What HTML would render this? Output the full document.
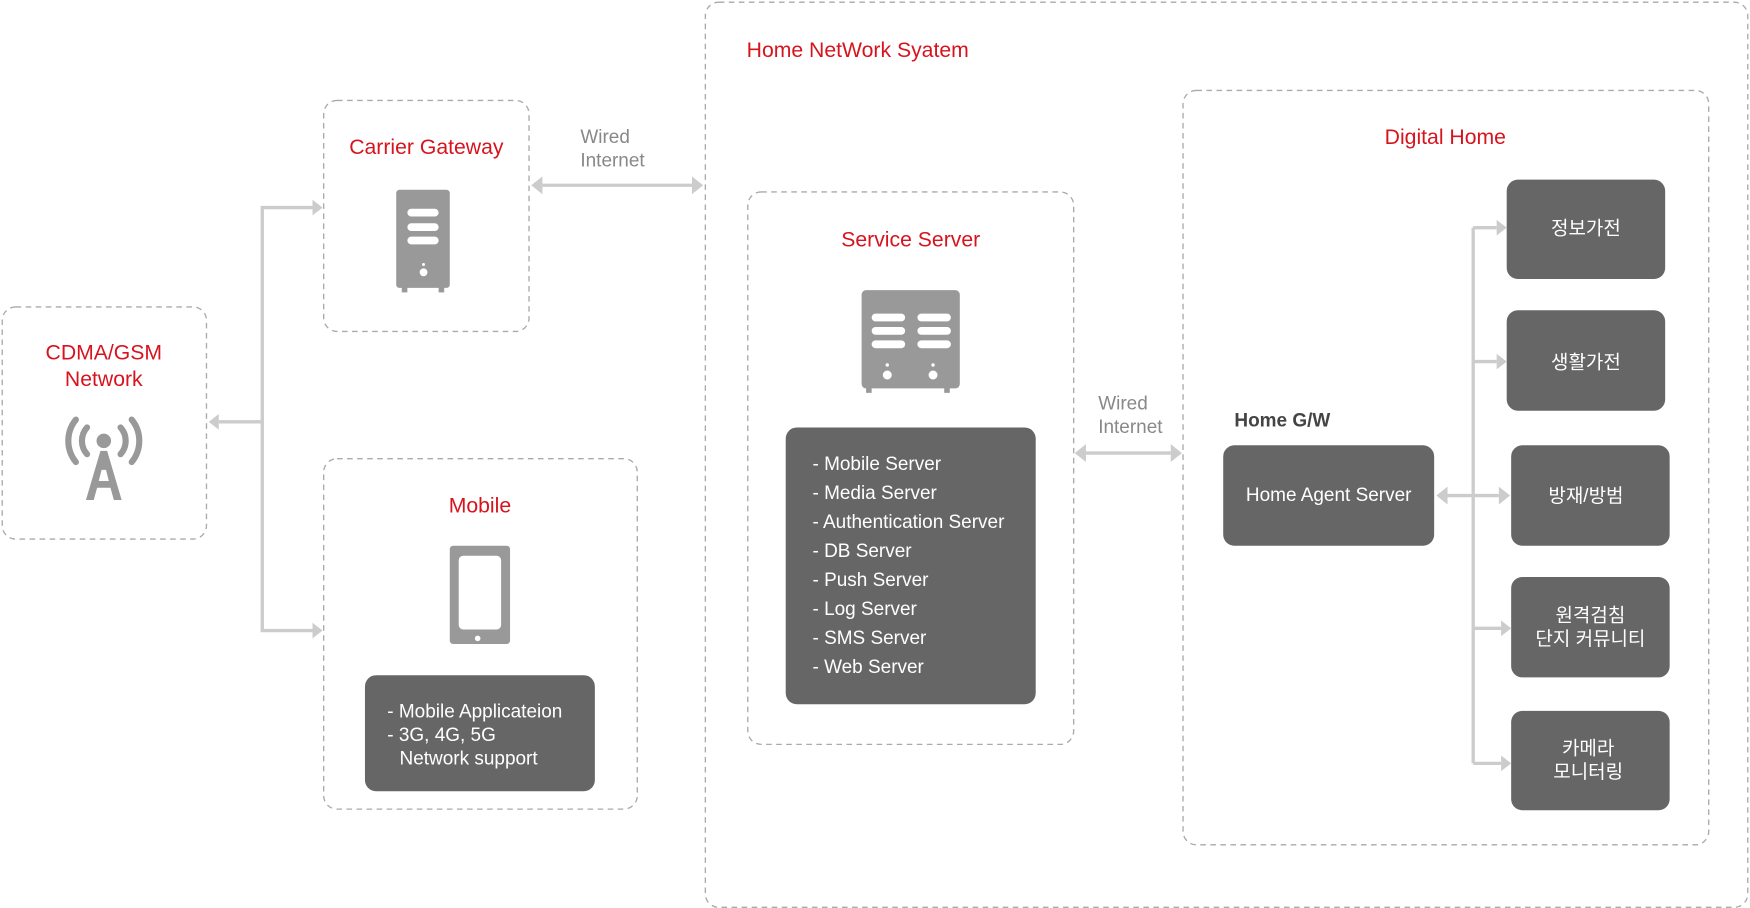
<!DOCTYPE html>
<html><head><meta charset="utf-8"><style>
html,body{margin:0;padding:0;background:#fff;width:1750px;height:908px;overflow:hidden}
svg{display:block}
text{font-family:"Liberation Sans","Noto Sans CJK KR",sans-serif}
.r{fill:#d7141e;font-size:19px}
.g{fill:#888;font-size:17px}
.w{fill:#fff;font-size:17px}
.d{fill:none;stroke:#aaa;stroke-width:1.2;stroke-dasharray:5,4}
.l{stroke:#ccc;stroke-width:3;fill:none}
.a{fill:#ccc}
.b{fill:#666}
</style></head><body>
<svg width="1750" height="908" viewBox="0 0 1568 813.6" preserveAspectRatio="none">
<!-- boxes -->
<rect class="d" x="632" y="2" width="934" height="811" rx="12"/>
<rect class="d" x="290" y="90" width="184" height="207" rx="12"/>
<rect class="d" x="2" y="275" width="183" height="208" rx="12"/>
<rect class="d" x="290" y="411" width="281" height="314" rx="12"/>
<rect class="d" x="670" y="172" width="292" height="495" rx="12"/>
<rect class="d" x="1060" y="81" width="471" height="676" rx="12"/>

<text class="r" x="669" y="51">Home NetWork Syatem</text>
<text class="r" x="382" y="138" text-anchor="middle">Carrier Gateway</text>
<text class="r" x="93" y="322" text-anchor="middle">CDMA/GSM</text>
<text class="r" x="93" y="346" text-anchor="middle">Network</text>
<text class="r" x="430" y="459" text-anchor="middle">Mobile</text>
<text class="r" x="816" y="221" text-anchor="middle">Service Server</text>
<text class="r" x="1295" y="129" text-anchor="middle">Digital Home</text>

<text class="g" x="520" y="128">Wired</text>
<text class="g" x="520" y="149">Internet</text>
<text class="g" x="984" y="367">Wired</text>
<text class="g" x="984" y="388">Internet</text>

<!-- carrier server icon -->
<rect x="355" y="170" width="48" height="88" rx="3" fill="#999"/>
<rect x="360" y="257" width="5" height="5" fill="#999"/><rect x="393" y="257" width="5" height="5" fill="#999"/>
<rect x="365" y="187" width="28" height="7" rx="3.5" fill="#fff"/>
<rect x="365" y="200" width="28" height="7" rx="3.5" fill="#fff"/>
<rect x="365" y="212" width="28" height="7" rx="3.5" fill="#fff"/>
<circle cx="379.5" cy="244" r="3.5" fill="#fff"/><circle cx="379.5" cy="237" r="1.3" fill="#fff"/>

<!-- service server icon -->
<rect x="772" y="260" width="88" height="88" rx="4" fill="#999"/>
<rect x="776" y="347" width="5" height="5" fill="#999"/><rect x="846" y="347" width="5" height="5" fill="#999"/>
<g fill="#fff">
<rect x="781" y="281" width="30" height="7" rx="3.5"/><rect x="781" y="293" width="30" height="7" rx="3.5"/><rect x="781" y="305" width="30" height="7" rx="3.5"/>
<rect x="822" y="281" width="30" height="7" rx="3.5"/><rect x="822" y="293" width="30" height="7" rx="3.5"/><rect x="822" y="305" width="30" height="7" rx="3.5"/>
<circle cx="795" cy="336" r="4"/><circle cx="795" cy="327" r="1.5"/>
<circle cx="836" cy="336" r="4"/><circle cx="836" cy="327" r="1.5"/>
</g>

<!-- antenna -->
<g fill="#999">
<circle cx="93" cy="395" r="6.5"/>
<path d="M78 383 A18 18 0 0 0 78 407" stroke="#999" stroke-width="5.5" fill="none" stroke-linecap="round"/>
<path d="M108 383 A18 18 0 0 1 108 407" stroke="#999" stroke-width="5.5" fill="none" stroke-linecap="round"/>
<path d="M68 376 A30 30 0 0 0 68 414" stroke="#999" stroke-width="5.5" fill="none" stroke-linecap="round"/>
<path d="M118 376 A30 30 0 0 1 118 414" stroke="#999" stroke-width="5.5" fill="none" stroke-linecap="round"/>
<path d="M90 404 L96 404 L109 448 L102 448 L99 437 L87 437 L84 448 L77 448 Z M88.5 431 L97.5 431 L95 421 L91 421 Z"/>
</g>

<!-- phone -->
<rect x="403" y="489" width="54" height="88" rx="3" fill="#999"/>
<rect x="411" y="498" width="38" height="66" rx="4" fill="#fff"/>
<circle cx="428" cy="572" r="2.5" fill="#fff"/>

<!-- dark boxes -->
<rect class="b" x="327" y="605" width="206" height="104" rx="10"/>
<text class="w" x="347" y="643">- Mobile Applicateion</text>
<text class="w" x="347" y="664">- 3G, 4G, 5G</text>
<text class="w" x="358" y="685">Network support</text>

<rect class="b" x="704" y="383" width="224" height="248" rx="10"/>
<g class="w">
<text class="w" x="728" y="421">- Mobile Server</text>
<text class="w" x="728" y="447">- Media Server</text>
<text class="w" x="728" y="473">- Authentication Server</text>
<text class="w" x="728" y="499">- DB Server</text>
<text class="w" x="728" y="525">- Push Server</text>
<text class="w" x="728" y="551">- Log Server</text>
<text class="w" x="728" y="577">- SMS Server</text>
<text class="w" x="728" y="603">- Web Server</text>
</g>

<text x="1106" y="382" style="font-size:17px;font-weight:bold;fill:#444">Home G/W</text>
<rect class="b" x="1096" y="399" width="189" height="90" rx="10"/>
<text class="w" x="1190.5" y="449" text-anchor="middle">Home Agent Server</text>

<rect class="b" x="1350" y="161" width="142" height="89" rx="10"/>
<text class="w" x="1421" y="210" text-anchor="middle">정보가전</text>
<rect class="b" x="1350" y="278" width="142" height="90" rx="10"/>
<text class="w" x="1421" y="330" text-anchor="middle">생활가전</text>
<rect class="b" x="1354" y="399" width="142" height="90" rx="10"/>
<text class="w" x="1421" y="450" text-anchor="middle">방재/방범</text>
<rect class="b" x="1354" y="517" width="142" height="90" rx="10"/>
<text class="w" x="1425" y="557" text-anchor="middle">원격검침</text>
<text class="w" x="1425" y="578" text-anchor="middle">단지 커뮤니티</text>
<rect class="b" x="1354" y="637" width="142" height="89" rx="10"/>
<text class="w" x="1423" y="676" text-anchor="middle">카메라</text>
<text class="w" x="1423" y="697" text-anchor="middle">모니터링</text>

<!-- connectors -->
<path class="l" d="M280 186 H235 V565 H280 M235 378 H196"/>
<polygon class="a" points="289,186 280,179 280,193"/>
<polygon class="a" points="289,565 280,558 280,572"/>
<polygon class="a" points="187,378 196,371 196,385"/>

<path class="l" d="M486 166 H620"/>
<polygon class="a" points="476,166 486,158 486,174"/>
<polygon class="a" points="630,166 620,158 620,174"/>

<path class="l" d="M973 406 H1049"/>
<polygon class="a" points="963,406 973,398 973,414"/>
<polygon class="a" points="1059,406 1049,398 1049,414"/>

<path class="l" d="M1320 204 V684 M1320 204 H1341 M1320 324 H1341 M1296 444 H1343 M1320 563 H1345 M1320 684 H1345"/>
<polygon class="a" points="1350,204 1341,197 1341,211"/>
<polygon class="a" points="1350,324 1341,317 1341,331"/>
<polygon class="a" points="1353,444 1343,436 1343,452"/>
<polygon class="a" points="1287,444 1297,436 1297,452"/>
<polygon class="a" points="1354,563 1345,556 1345,570"/>
<polygon class="a" points="1354,684 1345,677 1345,691"/>
</svg>
</body></html>
